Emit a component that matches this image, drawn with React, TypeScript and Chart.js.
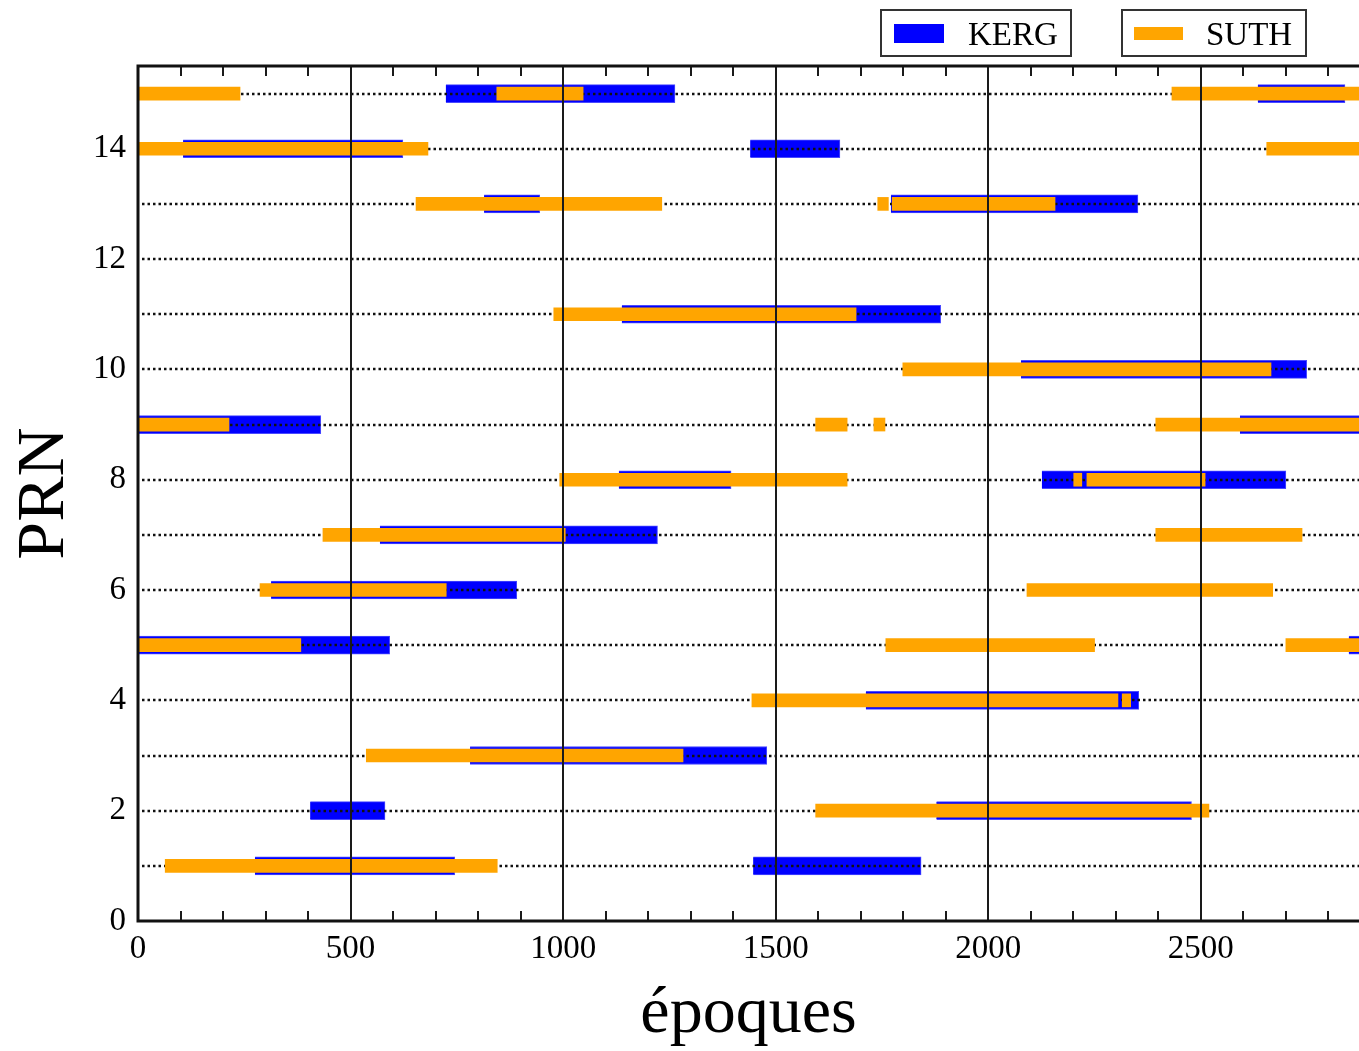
import React, { useEffect, useRef } from "react";
import { Chart, registerables } from "chart.js";

Chart.register(...registerables);

// ---- data ----
const PRN_TICKS = [0, 2, 4, 6, 8, 10, 12, 14];
const PRN_ROWS = [1, 2, 3, 4, 5, 6, 7, 8, 9, 10, 11, 12, 13, 14, 15];
const EPOCH_TICKS = [0, 500, 1000, 1500, 2000, 2500];
const SERIES_NAMES = ["KERG", "SUTH"];

// [PRN, start epoch, end epoch]
const KERG: [number, number, number][] = [
  [15, 724, 1263], [15, 2634, 2839],
  [14, 106, 623], [14, 1440, 1651],
  [13, 814, 945], [13, 1771, 2352],
  [11, 1138, 1888],
  [10, 2077, 2749],
  [9, 0, 430], [9, 2592, 2900],
  [8, 1131, 1395], [8, 2126, 2700],
  [7, 569, 1222],
  [6, 313, 891],
  [5, 0, 592], [5, 2848, 2900],
  [4, 1712, 2354],
  [3, 781, 1479],
  [2, 405, 581], [2, 1878, 2478],
  [1, 275, 745], [1, 1447, 1842],
];

const SUTH: [number, number, number][] = [
  [15, 0, 240], [15, 844, 1047], [15, 2432, 2900],
  [14, 0, 682], [14, 2655, 2900],
  [13, 654, 1232], [13, 1740, 1765], [13, 1774, 2157],
  [11, 978, 1689],
  [10, 1799, 2665],
  [9, 0, 214], [9, 1594, 1668], [9, 1731, 1757], [9, 2394, 2900],
  [8, 992, 1668], [8, 2201, 2220], [8, 2232, 2510],
  [7, 435, 1005], [7, 2394, 2738],
  [6, 287, 725], [6, 2091, 2669],
  [5, 0, 383], [5, 1759, 2250], [5, 2700, 2900],
  [4, 1444, 2305], [4, 2315, 2335],
  [3, 537, 1282],
  [2, 1594, 2519],
  [1, 64, 845],
];

const X_MAX = 2872;
const Y_MAX = 15.5;
const FONT = "'Liberation Serif', 'Times New Roman', serif";
const BLUE = "#0000ff";
const ORANGE = "#ffa500";

const decorPlugin = {
  id: "decor",
  afterDatasetDraw(chart: any, args: any) {
    const ds = chart.data.datasets[args.index];
    if (ds.label !== "KERG") return;
    const { ctx, chartArea } = chart;
    const y = chart.scales.y;
    ctx.save();
    ctx.beginPath();
    ctx.rect(chartArea.left, chartArea.top, chartArea.right - chartArea.left, chartArea.bottom - chartArea.top);
    ctx.clip();
    ctx.setLineDash([2.5, 3]);
    ctx.lineWidth = 2.5;
    ctx.strokeStyle = "#111";
    PRN_ROWS.forEach((v) => {
      const py = Math.round(y.getPixelForValue(v));
      ctx.beginPath();
      ctx.moveTo(chartArea.left + 4, py);
      ctx.lineTo(chartArea.right, py);
      ctx.stroke();
    });
    ctx.restore();
  },
  afterDatasetsDraw(chart: any) {
    const { ctx, chartArea } = chart;
    const x = chart.scales.x;
    const { left, right, top, bottom } = chartArea;
    ctx.save();
    // vertical solid lines
    ctx.strokeStyle = "#1a1a1a";
    ctx.lineWidth = 2;
    EPOCH_TICKS.forEach((v) => {
      if (v === 0) return;
      const px = Math.round(x.getPixelForValue(v));
      ctx.beginPath();
      ctx.moveTo(px, top);
      ctx.lineTo(px, bottom);
      ctx.stroke();
    });
    // minor ticks every 100, inward at top and bottom
    ctx.lineWidth = 2;
    for (let v = 100; v < X_MAX; v += 100) {
      const px = Math.round(x.getPixelForValue(v));
      ctx.beginPath();
      ctx.moveTo(px, top);
      ctx.lineTo(px, top + 10);
      ctx.moveTo(px, bottom);
      ctx.lineTo(px, bottom - 10);
      ctx.stroke();
    }
    // frame: left, top, bottom
    ctx.lineWidth = 3;
    ctx.strokeStyle = "#111";
    ctx.beginPath();
    ctx.moveTo(right + 2, top);
    ctx.lineTo(left, top);
    ctx.lineTo(left, bottom);
    ctx.lineTo(right + 2, bottom);
    ctx.stroke();

    // axis titles
    ctx.fillStyle = "#000";
    ctx.font = `66px ${FONT}`;
    ctx.textAlign = "center";
    ctx.textBaseline = "alphabetic";
    ctx.fillText("époques", (left + right) / 2, 1032);
    ctx.save();
    ctx.translate(63, (top + bottom) / 2);
    ctx.rotate(-Math.PI / 2);
    ctx.font = `68px ${FONT}`;
    ctx.fillText("PRN", 0, 0);
    ctx.restore();

    // legend boxes
    const items = [
      { name: SERIES_NAMES[0], color: BLUE, box: [881, 10, 190, 46], sw: [894, 24, 50, 19], tx: 968 },
      { name: SERIES_NAMES[1], color: ORANGE, box: [1122, 10, 184, 46], sw: [1134, 27, 49, 13], tx: 1206 },
    ];
    items.forEach((it) => {
      ctx.fillStyle = "#fff";
      ctx.fillRect(it.box[0], it.box[1], it.box[2], it.box[3]);
      ctx.strokeStyle = "#333";
      ctx.lineWidth = 2;
      ctx.strokeRect(it.box[0], it.box[1], it.box[2], it.box[3]);
      ctx.fillStyle = it.color;
      ctx.fillRect(it.sw[0], it.sw[1], it.sw[2], it.sw[3]);
      ctx.fillStyle = "#000";
      ctx.font = `33px ${FONT}`;
      ctx.textAlign = "left";
      ctx.textBaseline = "alphabetic";
      ctx.fillText(it.name, it.tx, 45);
    });
    ctx.restore();
  },
};

export default function App() {
  const canvasRef = useRef<HTMLCanvasElement | null>(null);

  useEffect(() => {
    if (!canvasRef.current) return;
    const toPoints = (rows: [number, number, number][]) =>
      rows.map(([p, s, e]) => ({ x: [s, e], y: p }));

    const chart = new Chart(canvasRef.current, {
      type: "bar",
      data: {
        datasets: [
          {
            label: "SUTH",
            data: toPoints(SUTH) as any,
            backgroundColor: ORANGE,
            borderWidth: 0,
            barThickness: 13,
            grouped: false,
            order: 0,
          } as any,
          {
            label: "KERG",
            data: toPoints(KERG) as any,
            backgroundColor: BLUE,
            borderColor: "#4a4aff",
            borderWidth: 1,
            barThickness: 18,
            grouped: false,
            order: 1,
          } as any,
        ],
      },
      options: {
        indexAxis: "y",
        animation: false,
        responsive: false,
        maintainAspectRatio: false,
        layout: { padding: { top: 66, right: 0, bottom: 0, left: 0 } },
        plugins: {
          legend: { display: false },
          tooltip: { enabled: false },
        },
        scales: {
          x: {
            type: "linear",
            position: "bottom",
            min: 0,
            max: X_MAX,
            grid: { display: false, drawTicks: false },
            border: { display: false },
            afterBuildTicks: (scale: any) => {
              scale.ticks = EPOCH_TICKS.map((v) => ({ value: v }));
            },
            afterFit: (scale: any) => {
              scale.height = 130;
            },
            ticks: {
              autoSkip: false,
              maxRotation: 0,
              padding: 9,
              color: "#000",
              font: { family: FONT, size: 33 },
              callback: (v: any) => String(v),
            },
          },
          y: {
            type: "linear",
            position: "left",
            min: 0,
            max: Y_MAX,
            offset: false,
            grid: { display: false, drawTicks: false, offset: false },
            border: { display: false },
            afterBuildTicks: (scale: any) => {
              scale.ticks = PRN_TICKS.map((v) => ({ value: v }));
            },
            afterFit: (scale: any) => {
              scale.width = 138;
            },
            ticks: {
              autoSkip: false,
              padding: 12,
              color: "#000",
              font: { family: FONT, size: 33 },
              callback: (v: any) => String(v),
            },
          },
        },
      } as any,
      plugins: [decorPlugin],
    });
    return () => chart.destroy();
  }, []);

  return (
    <div style={{ position: "fixed", left: 0, top: 0, width: 1359, height: 1051, background: "#fff" }}>
      <canvas ref={canvasRef} width={1359} height={1051} style={{ display: "block" }} />
    </div>
  );
}
